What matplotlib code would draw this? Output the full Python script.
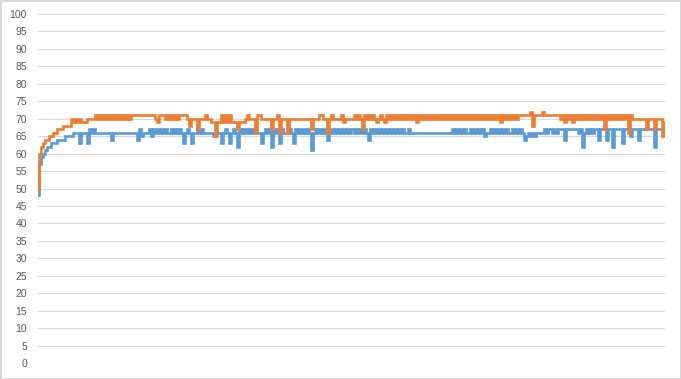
import matplotlib
matplotlib.use("Agg")
import matplotlib.pyplot as plt
import numpy as np

# values, one point every ~2 px
blue_vals = [
    48, 57, 59, 60, 61, 62, 62, 63, 63, 63, 64, 64, 64, 64, 65, 65, 65, 65, 66, 66,
    66, 63, 66, 66, 66, 63, 67, 66, 67, 66, 66, 66, 66, 66, 66, 66, 66, 64, 66, 66,
    66, 66, 66, 66, 66, 66, 66, 66, 66, 66, 64, 67, 65, 66, 66, 66, 67, 65, 67, 66,
    67, 66, 67, 66, 67, 66, 66, 67, 66, 67, 66, 67, 66, 63, 66, 67, 66, 63, 66, 66,
    67, 66, 67, 66, 66, 66, 66, 66, 65, 66, 66, 66, 63, 66, 67, 66, 63, 66, 67, 66,
    62, 67, 66, 67, 66, 67, 66, 67, 66, 66, 66, 66, 63, 66, 67, 66, 67, 62, 67, 66,
    67, 63, 67, 66, 66, 66, 67, 66, 63, 67, 66, 67, 66, 67, 66, 67, 66, 61, 66, 67,
    66, 67, 66, 67, 66, 64, 66, 67, 66, 67, 66, 67, 66, 67, 66, 67, 66, 67, 66, 67,
    66, 67, 66, 67, 66, 64, 67, 66, 67, 66, 67, 66, 67, 66, 67, 66, 67, 66, 67, 66,
    67, 66, 67, 66, 66, 67, 66, 66, 66, 66, 66, 66, 66, 66, 66, 66, 66, 66, 66, 66,
    66, 66, 66, 66, 66, 66, 66, 67, 66, 67, 66, 67, 66, 67, 66, 66, 67, 66, 67, 66,
    67, 66, 67, 65, 66, 66, 67, 66, 67, 66, 67, 66, 67, 66, 67, 66, 66, 67, 66, 67,
    66, 67, 66, 64, 65, 66, 65, 66, 65, 66, 66, 66, 66, 67, 66, 67, 67, 66, 67, 66,
    67, 67, 67, 64, 67, 67, 67, 67, 67, 67, 66, 67, 62, 66, 67, 66, 67, 66, 67, 67,
    64, 67, 67, 67, 64, 67, 67, 62, 67, 67, 67, 67, 63, 67, 67, 67, 65, 67, 67, 67,
    64, 67, 67, 67, 67, 67, 67, 67, 62, 67, 67, 67, 67, 65,
]

orange_vals = [
    50, 60, 62, 63, 64, 64, 65, 65, 66, 66, 67, 67, 67, 68, 68, 68, 68, 70, 69, 70,
    69, 70, 69, 69, 69, 70, 70, 70, 70, 71, 70, 71, 70, 71, 70, 71, 70, 71, 70, 71,
    70, 71, 70, 71, 70, 71, 70, 71, 71, 71, 71, 71, 71, 71, 71, 71, 71, 71, 71, 70,
    69, 71, 71, 71, 70, 71, 70, 71, 70, 71, 70, 71, 71, 71, 71, 70, 68, 70, 70, 70,
    67, 70, 70, 70, 71, 70, 70, 69, 69, 65, 69, 69, 71, 69, 71, 69, 71, 69, 69, 69,
    67, 69, 69, 69, 70, 71, 70, 70, 70, 66, 71, 71, 70, 70, 70, 70, 70, 67, 70, 70,
    71, 66, 70, 70, 70, 66, 70, 70, 70, 70, 70, 70, 70, 70, 70, 70, 70, 67, 70, 70,
    70, 71, 71, 70, 70, 66, 70, 71, 70, 70, 70, 70, 71, 69, 70, 70, 70, 70, 71, 70,
    71, 70, 67, 71, 70, 71, 70, 71, 70, 69, 70, 71, 70, 69, 71, 70, 71, 70, 71, 70,
    71, 70, 71, 70, 71, 70, 71, 70, 71, 69, 71, 70, 71, 70, 71, 70, 71, 70, 71, 70,
    71, 70, 71, 70, 71, 70, 71, 70, 71, 70, 71, 70, 71, 70, 71, 70, 71, 70, 71, 70,
    71, 70, 71, 70, 71, 70, 71, 70, 71, 70, 71, 69, 71, 70, 71, 70, 71, 70, 71, 70,
    71, 71, 71, 71, 71, 71, 72, 68, 71, 71, 71, 71, 72, 71, 71, 71, 71, 71, 71, 71,
    71, 70, 71, 69, 71, 70, 71, 69, 71, 70, 71, 70, 71, 70, 71, 70, 71, 70, 71, 70,
    71, 70, 71, 67, 71, 70, 71, 70, 71, 70, 71, 70, 71, 70, 71, 66, 71, 70, 70, 70,
    70, 70, 70, 70, 67, 70, 70, 70, 67, 70, 70, 70, 65, 69,
]

y_ticks = list(range(0, 101, 5))

fig = plt.figure(figsize=(6.81, 3.79), dpi=100)
fig.patch.set_facecolor("white")
fig.patch.set_edgecolor("#d9d9d9")
fig.patch.set_linewidth(1.0)

ax = fig.add_axes([0.0558, 0.0422, 0.9207, 0.9208])

# steps keep the dense flicker looking like vertical ticks, as in the source
x = np.arange(len(blue_vals))
ax.plot(x, blue_vals, color="#5b9bd5", lw=1.9, drawstyle="steps-mid",
        solid_joinstyle="miter", zorder=3)
ax.plot(x, orange_vals, color="#ed7d31", lw=1.9, drawstyle="steps-mid",
        solid_joinstyle="miter", zorder=4)

ax.set_xlim(0, len(blue_vals) - 1)
ax.set_ylim(0, 100)
ax.set_yticks(y_ticks)
ax.set_yticklabels([str(t) for t in y_ticks], fontfamily="Liberation Sans",
                   fontsize=7.5, color="#595959")
ax.tick_params(axis="y", length=0, pad=8)
ax.set_xticks([])
ax.grid(axis="y", color="#d9d9d9", lw=0.8, zorder=0)
for s in ax.spines.values():
    s.set_visible(False)

fig.savefig("out.png", dpi=100)
